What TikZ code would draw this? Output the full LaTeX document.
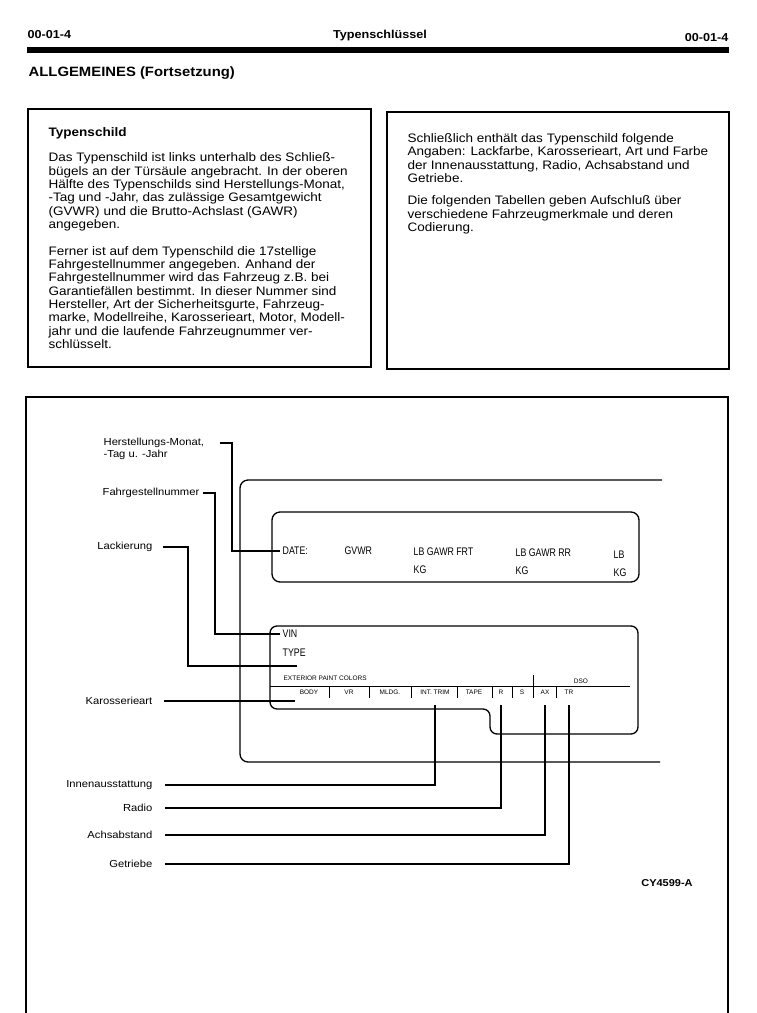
\documentclass[tikz,border=0pt]{standalone}
\usepackage{fontspec}
\setmainfont[FakeStretch=1.1]{Liberation Sans}
\newfontfamily\narrowsans[FakeStretch=0.8]{Liberation Sans}
\newfontfamily\platesans{Liberation Sans}

\begin{document}
\begin{tikzpicture}[x=1pt,y=-1pt,line width=1.3pt,
  hdr/.style={font=\bfseries\fontsize{11.5}{13}\selectfont,inner sep=0pt},
  para/.style={font=\fontsize{12.3}{13.3}\selectfont,align=left,anchor=west,inner sep=0pt},
  lbl/.style={font=\fontsize{10.2}{12}\selectfont,align=left,inner sep=0pt},
  plate/.style={font=\narrowsans\fontsize{11}{12}\selectfont,anchor=west,inner sep=2pt},
  tiny/.style={font=\platesans\fontsize{6.5}{7}\selectfont,inner sep=0pt}]
      \useasboundingbox (0,0) rectangle (756,1013);
      \fill[white] (0,0) rectangle (756,1013);
      \node[hdr,anchor=west] (pgL) at (27,35) {00-01-4};
      \node[hdr] (pgT) at (380,36) {Typenschlüssel};
      \node[hdr,anchor=east] (pgR) at (729,38) {00-01-4};
      \draw[line width=5.5pt] (27,50) -- (729,50);
      \node[font=\bfseries\fontsize{13.5}{16}\selectfont,anchor=west,inner sep=0pt] (sec) at (28,73) {ALLGEMEINES (Fortsetzung)};

      \draw[line width=1.5pt] (28,109) rectangle (371,367);
      \node[font=\bfseries\fontsize{12.3}{14}\selectfont,anchor=west,inner sep=0pt] (tsTitle) at (48,133) {Typenschild};
      \node[para] (tsPara1) at (48,192) {Das Typenschild ist links unterhalb des Schließ-\\bügels an der Türsäule angebracht. In der oberen\\Hälfte des Typenschilds sind Herstellungs-Monat,\\-Tag und -Jahr, das zulässige Gesamtgewicht\\(GVWR) und die Brutto-Achslast (GAWR)\\angegeben.};
      \node[para] (tsPara2) at (48,297.5) {Ferner ist auf dem Typenschild die 17stellige\\Fahrgestellnummer angegeben. Anhand der\\Fahrgestellnummer wird das Fahrzeug z.B. bei\\Garantiefällen bestimmt. In dieser Nummer sind\\Hersteller, Art der Sicherheitsgurte, Fahrzeug-\\marke, Modellreihe, Karosserieart, Motor, Modell-\\jahr und die laufende Fahrzeugnummer ver-\\schlüsselt.};

      \draw[line width=1.5pt] (387,112) rectangle (729,369);
      \node[para] (inPara1) at (407,158) {Schließlich enthält das Typenschild folgende\\Angaben: Lackfarbe, Karosserieart, Art und Farbe\\der Innenausstattung, Radio, Achsabstand und\\Getriebe.};
      \node[para] (inPara2) at (407,215) {Die folgenden Tabellen geben Aufschluß über\\verschiedene Fahrzeugmerkmale und deren\\Codierung.};

      \draw[line width=1.8pt] (26,1013) -- (26,397) -- (728,397) -- (728,1013);

      \draw[rounded corners=8pt] (662,480) -- (240,480) -- (240,762) -- (660,762);
      \draw[rounded corners=8pt] (272,512) rectangle (639,582);
      \draw[rounded corners=7pt] (638,734) -- (490,734) -- (490,709) -- (270,709) -- (270,626) -- (638,626) -- cycle;

      \node[plate] (date) at (280,551) {DATE:};
      \node[plate] (gvwr) at (342,551) {GVWR};
      \node[plate] (frt) at (411,552) {LB GAWR FRT};
      \node[plate] (frtKg) at (411,570) {KG};
      \node[plate] (rr) at (513,553) {LB GAWR RR};
      \node[plate] (rrKg) at (513,571) {KG};
      \node[plate] (tot) at (611,555) {LB};
      \node[plate] (totKg) at (611,573) {KG};

      \node[plate] (vin) at (280,634) {VIN};
      \node[plate] (type) at (280,653) {TYPE};
      \node[tiny,anchor=west] (ext) at (283,678) {EXTERIOR PAINT COLORS};
      \node[tiny] (dso) at (581,681) {DSO};
      \draw[line width=0.9pt] (270,686) -- (630,686);
      \draw[line width=0.9pt] (329,686) -- (329,698);
      \draw[line width=0.9pt] (369,686) -- (369,698);
      \draw[line width=0.9pt] (411,686) -- (411,698);
      \draw[line width=0.9pt] (457,686) -- (457,698);
      \draw[line width=0.9pt] (492,686) -- (492,698);
      \draw[line width=0.9pt] (512,686) -- (512,698);
      \draw[line width=0.9pt] (533,675) -- (533,698);
      \draw[line width=0.9pt] (556,686) -- (556,698);
      \node[tiny] (cBody) at (309,692) {BODY};
      \node[tiny] (cVr) at (349,692) {VR};
      \node[tiny] (cMldg) at (390,692) {MLDG.};
      \node[tiny] (cTrim) at (435,692) {INT. TRIM};
      \node[tiny] (cTape) at (474,692) {TAPE};
      \node[tiny] (cR) at (501,692) {R};
      \node[tiny] (cS) at (522,692) {S};
      \node[tiny] (cAx) at (545,692) {AX};
      \node[tiny] (cTr) at (569,692) {TR};

      \node[lbl,anchor=west] (hm) at (103,449) {Herstellungs-Monat,\\-Tag u. -Jahr};
      \node[lbl,anchor=west] (fg) at (102,493) {Fahrgestellnummer};
      \node[lbl,anchor=east] (lk) at (153,547) {Lackierung};
      \node[lbl,anchor=east] (ka) at (153,701) {Karosserieart};
      \node[lbl,anchor=east] (ia) at (153,785) {Innenausstattung};
      \node[lbl,anchor=east] (ra) at (153,808) {Radio};
      \node[lbl,anchor=east] (ac) at (153,835) {Achsabstand};
      \node[lbl,anchor=east] (ge) at (153,864) {Getriebe};
      \coordinate (hmK) at (232,443);
      \coordinate (fgK) at (215,493);
      \coordinate (lkK) at (188,547);
      \coordinate (lkE) at (297,666);
      \coordinate (kaE) at (295,701);
      \draw ([xshift=15pt,yshift=6pt]hm.east) -- (hmK) |- (date.west);
      \draw ([xshift=3pt]fg.east) -- (fgK) |- (vin.west);
      \draw ([xshift=10pt]lk.east) -- (lkK) |- (lkE);
      \draw ([xshift=11pt]ka.east) -- (kaE);
      \draw ([xshift=12pt]ia.east) -| ([yshift=-10pt]cTrim.south);
      \draw ([xshift=12pt]ra.east) -| ([yshift=-10pt]cR.south);
      \draw ([xshift=12pt]ac.east) -| ([yshift=-10pt]cAx.south);
      \draw ([xshift=12pt]ge.east) -| ([yshift=-10pt]cTr.south);

      \node[hdr,font=\bfseries\fontsize{10}{12}\selectfont] (fig) at (667,883) {CY4599-A};
    \end{tikzpicture}
\end{document}
